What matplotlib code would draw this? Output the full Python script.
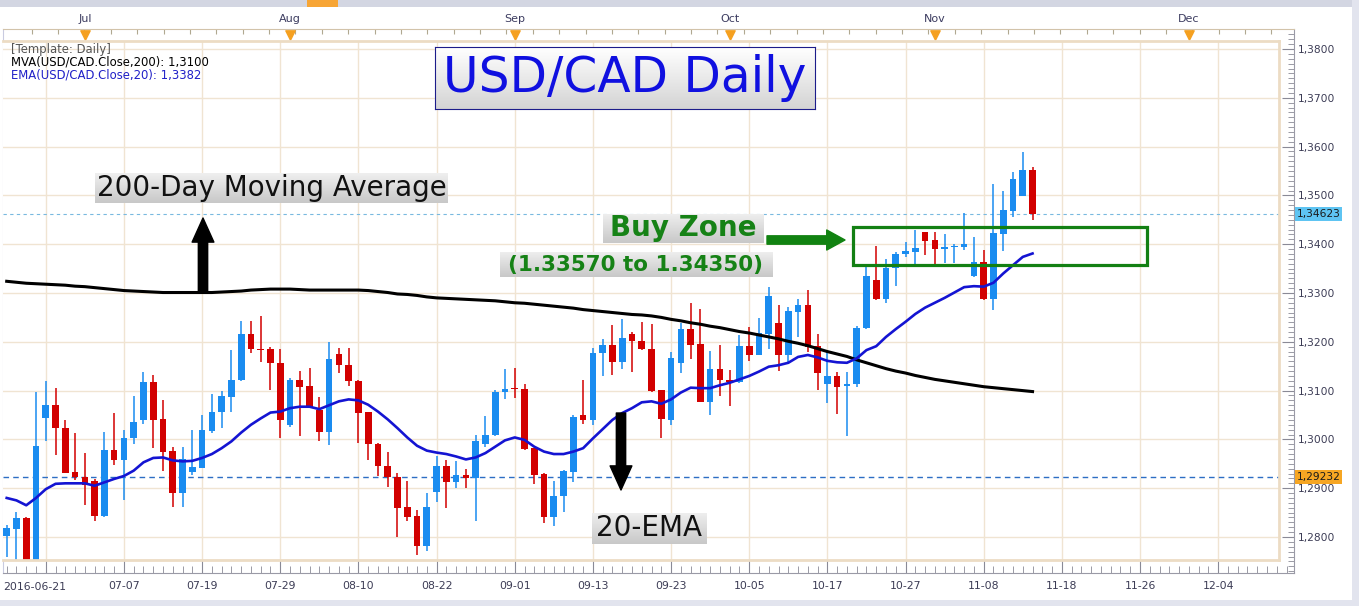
import numpy as np
import matplotlib
matplotlib.use('Agg')
from matplotlib import pyplot as plt
from matplotlib.patches import Rectangle
from matplotlib.colors import LinearSegmentedColormap
from matplotlib.ticker import FixedLocator, MultipleLocator, FuncFormatter

W, H = 1359, 606

# daily USD/CAD candles, 2016-06-21 .. 2016-11-15
opens = [1.2802, 1.2816, 1.2839, 1.2730, 1.3044, 1.3071, 1.3023, 1.2933, 1.2923, 1.2914,
         1.2844, 1.2979, 1.2958, 1.3003, 1.3040, 1.3117, 1.3041, 1.2977, 1.2890, 1.2934,
         1.2942, 1.3018, 1.3056, 1.3087, 1.3121, 1.3216, 1.3186, 1.3186, 1.3156, 1.3029,
         1.3121, 1.3110, 1.3061, 1.3016, 1.3175, 1.3153, 1.3120, 1.3056, 1.2991, 1.2946,
         1.2922, 1.2861, 1.2843, 1.2781, 1.2892, 1.2946, 1.2912, 1.2927, 1.2921, 1.2990,
         1.3009, 1.3097, 1.3105, 1.3104, 1.2983, 1.2929, 1.2842, 1.2883, 1.2934, 1.3050,
         1.3039, 1.3177, 1.3194, 1.3158, 1.3216, 1.3202, 1.3185, 1.3102, 1.3040, 1.3156,
         1.3226, 1.3196, 1.3077, 1.3144, 1.3122, 1.3118, 1.3191, 1.3173, 1.3216, 1.3238,
         1.3173, 1.3262, 1.3275, 1.3192, 1.3114, 1.3129, 1.3109, 1.3113, 1.3228, 1.3327,
         1.3287, 1.3351, 1.3379, 1.3385, 1.3424, 1.3408, 1.3390, 1.3394, 1.3395, 1.3335,
         1.3363, 1.3287, 1.3421, 1.3468, 1.3499, 1.3552]
highs = [1.2825, 1.2852, 1.2842, 1.3097, 1.3119, 1.3105, 1.3040, 1.3013, 1.2972, 1.2919,
         1.3015, 1.3054, 1.3020, 1.3089, 1.3138, 1.3131, 1.3081, 1.2985, 1.2985, 1.3020,
         1.3050, 1.3093, 1.3099, 1.3184, 1.3242, 1.3243, 1.3253, 1.3190, 1.3186, 1.3126,
         1.3141, 1.3146, 1.3087, 1.3199, 1.3187, 1.3187, 1.3122, 1.3057, 1.2992, 1.2974,
         1.2931, 1.2915, 1.2856, 1.2890, 1.2965, 1.2958, 1.2955, 1.2939, 1.3009, 1.3047,
         1.3102, 1.3145, 1.3146, 1.3113, 1.2983, 1.2932, 1.2914, 1.2938, 1.3050, 1.3122,
         1.3187, 1.3205, 1.3235, 1.3246, 1.3221, 1.3240, 1.3237, 1.3102, 1.3180, 1.3238,
         1.3279, 1.3267, 1.3181, 1.3193, 1.3142, 1.3214, 1.3231, 1.3248, 1.3312, 1.3275,
         1.3271, 1.3287, 1.3307, 1.3215, 1.3180, 1.3139, 1.3139, 1.3232, 1.3354, 1.3396,
         1.3370, 1.3385, 1.3405, 1.3430, 1.3426, 1.3424, 1.3420, 1.3400, 1.3463, 1.3415,
         1.3389, 1.3523, 1.3508, 1.3547, 1.3588, 1.3559]
lows = [1.2760, 1.2745, 1.2655, 1.2725, 1.2996, 1.2968, 1.2931, 1.2917, 1.2865, 1.2832,
        1.2840, 1.2948, 1.2876, 1.2990, 1.3031, 1.2982, 1.2936, 1.2862, 1.2862, 1.2927,
        1.2941, 1.3014, 1.3024, 1.3057, 1.3119, 1.3177, 1.3158, 1.3102, 1.3003, 1.3026,
        1.3006, 1.3064, 1.2996, 1.2989, 1.3137, 1.3110, 1.2992, 1.2958, 1.2924, 1.2902,
        1.2799, 1.2832, 1.2764, 1.2772, 1.2871, 1.2860, 1.2901, 1.2900, 1.2833, 1.2985,
        1.3007, 1.3083, 1.3085, 1.2979, 1.2908, 1.2828, 1.2823, 1.2852, 1.2912, 1.3031,
        1.3030, 1.3129, 1.3131, 1.3144, 1.3138, 1.3184, 1.3098, 1.3003, 1.3029, 1.3137,
        1.3164, 1.3077, 1.3050, 1.3088, 1.3069, 1.3116, 1.3161, 1.3173, 1.3185, 1.3141,
        1.3156, 1.3210, 1.3180, 1.3101, 1.3074, 1.3053, 1.3006, 1.3107, 1.3226, 1.3286,
        1.3279, 1.3315, 1.3374, 1.3354, 1.3378, 1.3355, 1.3362, 1.3362, 1.3388, 1.3333,
        1.3286, 1.3265, 1.3386, 1.3456, 1.3499, 1.3450]
closes = [1.2818, 1.2839, 1.2730, 1.2987, 1.3071, 1.3023, 1.2932, 1.2923, 1.2906, 1.2844,
          1.2979, 1.2958, 1.3003, 1.3035, 1.3117, 1.3040, 1.2975, 1.2890, 1.2960, 1.2943,
          1.3020, 1.3056, 1.3088, 1.3122, 1.3216, 1.3185, 1.3183, 1.3156, 1.3039, 1.3121,
          1.3108, 1.3067, 1.3016, 1.3165, 1.3152, 1.3119, 1.3055, 1.2990, 1.2946, 1.2922,
          1.2860, 1.2842, 1.2781, 1.2861, 1.2946, 1.2912, 1.2927, 1.2921, 1.2997, 1.3009,
          1.3098, 1.3104, 1.3103, 1.2980, 1.2927, 1.2842, 1.2884, 1.2936, 1.3045, 1.3039,
          1.3177, 1.3194, 1.3158, 1.3208, 1.3201, 1.3185, 1.3100, 1.3042, 1.3166, 1.3226,
          1.3193, 1.3077, 1.3144, 1.3122, 1.3118, 1.3191, 1.3173, 1.3219, 1.3294, 1.3173,
          1.3263, 1.3275, 1.3189, 1.3137, 1.3129, 1.3108, 1.3114, 1.3229, 1.3335, 1.3287,
          1.3351, 1.3379, 1.3386, 1.3392, 1.3407, 1.3390, 1.3394, 1.3396, 1.3400, 1.3364,
          1.3287, 1.3422, 1.3470, 1.3534, 1.3552, 1.3461]

# indicator values per candle
ema20 = [1.2880, 1.2875, 1.2865, 1.2880, 1.2898, 1.2909, 1.2910, 1.2910, 1.2910, 1.2905,
         1.2912, 1.2919, 1.2925, 1.2936, 1.2953, 1.2962, 1.2963, 1.2957, 1.2955, 1.2956,
         1.2962, 1.2970, 1.2982, 1.2996, 1.3014, 1.3030, 1.3043, 1.3055, 1.3057, 1.3064,
         1.3067, 1.3067, 1.3062, 1.3070, 1.3078, 1.3082, 1.3080, 1.3071, 1.3057, 1.3041,
         1.3023, 1.3004, 1.2987, 1.2977, 1.2973, 1.2970, 1.2965, 1.2959, 1.2963, 1.2972,
         1.2985, 1.2998, 1.3004, 1.2999, 1.2985, 1.2975, 1.2970, 1.2970, 1.2975, 1.2982,
         1.3002, 1.3021, 1.3040, 1.3054, 1.3064, 1.3076, 1.3078, 1.3073, 1.3082, 1.3096,
         1.3106, 1.3105, 1.3105, 1.3111, 1.3116, 1.3123, 1.3130, 1.3139, 1.3149, 1.3152,
         1.3157, 1.3169, 1.3173, 1.3168, 1.3161, 1.3158, 1.3157, 1.3166, 1.3183, 1.3191,
         1.3210, 1.3226, 1.3241, 1.3257, 1.3270, 1.3280, 1.3290, 1.3301, 1.3312, 1.3314,
         1.3313, 1.3321, 1.3340, 1.3357, 1.3374, 1.3381]
mva200 = [1.3324, 1.3322, 1.3320, 1.3319, 1.3318, 1.3317, 1.3316, 1.3314, 1.3313, 1.3311,
          1.3309, 1.3307, 1.3305, 1.3304, 1.3303, 1.3302, 1.3301, 1.3301, 1.3301, 1.3301,
          1.3301, 1.3301, 1.3302, 1.3303, 1.3304, 1.3306, 1.3307, 1.3308, 1.3308, 1.3308,
          1.3307, 1.3306, 1.3306, 1.3306, 1.3306, 1.3306, 1.3306, 1.3305, 1.3303, 1.3301,
          1.3298, 1.3297, 1.3295, 1.3292, 1.3290, 1.3289, 1.3288, 1.3287, 1.3286, 1.3285,
          1.3284, 1.3282, 1.3280, 1.3279, 1.3277, 1.3275, 1.3273, 1.3271, 1.3269, 1.3266,
          1.3264, 1.3262, 1.3260, 1.3258, 1.3256, 1.3255, 1.3253, 1.3250, 1.3246, 1.3243,
          1.3239, 1.3236, 1.3232, 1.3229, 1.3225, 1.3221, 1.3218, 1.3214, 1.3210, 1.3206,
          1.3201, 1.3197, 1.3192, 1.3186, 1.3180, 1.3175, 1.3170, 1.3163, 1.3157, 1.3151,
          1.3145, 1.3140, 1.3136, 1.3131, 1.3127, 1.3123, 1.3120, 1.3117, 1.3114, 1.3111,
          1.3108, 1.3106, 1.3104, 1.3102, 1.3100, 1.3098]

date_ticks = [4, 12, 20, 28, 36, 44, 52, 60, 68, 76, 84, 92, 100, 108, 116, 124]
date_labels = ['', '07-07', '07-19', '07-29', '08-10', '08-22', '09-01', '09-13',
               '09-23', '10-05', '10-17', '10-27', '11-08', '11-18', '11-26', '12-04']
first_date = '2016-06-21'
months = ['Jul', 'Aug', 'Sep', 'Oct', 'Nov', 'Dec']
month_pos = [8, 29, 52, 74, 95, 121]
price_ticks = [1.28, 1.29, 1.30, 1.31, 1.32, 1.33, 1.34, 1.35, 1.36, 1.37, 1.38]

last_price = 1.34623
mark_price = 1.29232
zone_low, zone_high = 1.33570, 1.34350

BLUE = '#1a8cf0'
RED = '#d20000'

# pixel <-> data helpers (for placing axes and annotations)
X0, DX = 6.7, 9.77
PY0, PPU = 49, 4880


def px2x(px):
    return (px - X0) / DX


def py2p(py):
    return 1.38 - (py - PY0) / PPU


def fx(px):
    return px / W


def fy(py):
    return 1 - py / H


fig = plt.figure(figsize=(W / 100, H / 100), dpi=100, facecolor='white')

# outer frame with the scales
ax0 = fig.add_axes([fx(3), fy(573), fx(1294) - fx(3), fy(29) - fy(573)], zorder=0)
ax0.spines['left'].set_color('#c9cbe0')
ax0.spines['right'].set_color('#9a9aa6')
ax0.spines['bottom'].set_color('#9a9aa6')
ax0.spines['top'].set_color('#d2c3aa')
ax0.yaxis.tick_right()
ax0.yaxis.set_major_locator(FixedLocator(price_ticks))
ax0.yaxis.set_minor_locator(MultipleLocator(0.001))
ax0.yaxis.set_major_formatter(FuncFormatter(lambda v, _: f'{v:.4f}'.replace('.', ',')))
ax0.xaxis.set_major_locator(FixedLocator(date_ticks))
ax0.xaxis.set_minor_locator(MultipleLocator(1))
ax0.set_xticklabels(date_labels)
ax0.set_xlim(px2x(3), px2x(1294))
ax0.set_ylim(py2p(573), py2p(29))
ax0.tick_params(axis='y', which='major', direction='in', length=9, color='#8a8a96',
                labelsize=7.7, labelcolor='#3c3c55', pad=3)
ax0.tick_params(axis='y', which='minor', direction='in', length=4, color='#8a8a96')
ax0.tick_params(axis='x', which='major', direction='in', length=11, color='#8a8a96',
                labelsize=7.8, labelcolor='#3c3c55', pad=6)
ax0.tick_params(axis='x', which='minor', direction='in', length=5, color='#8a8a96')
tr = ax0.get_xaxis_transform()
ax0.vlines(np.arange(2.55, 131.5, 2.7), 1 - 5 / 544, 1, transform=tr, color='#b0a890', lw=0.8)
for m, p in zip(months, month_pos):
    ax0.text(p, (573 - 19) / 544, m, transform=tr, ha='center', va='center',
             fontsize=8, color='#3c3c60')
ax0.scatter(month_pos, [(573 - 35) / 544] * len(month_pos), transform=tr, marker='v',
            s=45, color='#f5a020', clip_on=False, zorder=5)
fig.text(fx(3), fy(587), first_date, ha='left', va='center', fontsize=7.8, color='#3c3c55')

# inner price area
ax = fig.add_axes([fx(3), fy(560), fx(1279) - fx(3), fy(41) - fy(560)], zorder=1)
ax.set_xticks(date_ticks)
ax.set_yticks(price_ticks)
ax.set_xlim(px2x(3), px2x(1279))
ax.set_ylim(py2p(560), py2p(41))
ax.grid(True, color='#f0e4d2', lw=1)
ax.set_axisbelow(True)
ax.tick_params(length=0, labelbottom=False, labelleft=False)
for s in ['top', 'right', 'bottom']:
    ax.spines[s].set_color('#ecdcc4')
    ax.spines[s].set_linewidth(2)
ax.spines['left'].set_visible(False)

o = np.array(opens)
c = np.array(closes)
idx = np.arange(len(o))
cols = np.where(c >= o, BLUE, RED)
ax.vlines(idx, lows, highs, colors=cols, lw=1.1, zorder=2)
ax.bar(idx, np.maximum(np.abs(c - o), 0.00025), bottom=np.minimum(o, c), width=0.68,
       color=cols, lw=0, zorder=2)

ax.plot(idx, mva200, color='black', lw=2.2, zorder=3)
ax.plot(idx, ema20, color='#1414d2', lw=1.9, zorder=3)

ax.axhline(last_price, color='#79b9df', lw=0.8, ls=(0, (3, 3)), zorder=1)
ax.axhline(mark_price, color='#2d6ec4', lw=1, ls=(0, (4, 3)), zorder=1)

ax.add_patch(Rectangle((px2x(853), zone_low), px2x(1147) - px2x(853), zone_high - zone_low,
                       fill=False, ec='#138013', lw=2.3, zorder=5))

ax.annotate('', xy=(px2x(203), py2p(218)), xytext=(px2x(203), py2p(292)),
            arrowprops=dict(arrowstyle='simple,head_length=1.24,head_width=1.12,tail_width=0.48',
                            color='black', mutation_scale=14, shrinkA=0, shrinkB=0), zorder=6)
ax.annotate('', xy=(px2x(621), py2p(490)), xytext=(px2x(621), py2p(413)),
            arrowprops=dict(arrowstyle='simple,head_length=1.24,head_width=1.12,tail_width=0.48',
                            color='black', mutation_scale=14, shrinkA=0, shrinkB=0), zorder=6)
ax.annotate('', xy=(px2x(845), py2p(240)), xytext=(px2x(767), py2p(240)),
            arrowprops=dict(arrowstyle='simple,head_length=0.94,head_width=1.03,tail_width=0.43',
                            color='#118211', mutation_scale=14, shrinkA=0, shrinkB=0), zorder=6)


def grad_box(x0, y0, x1, y1, top, bottom, edge=None):
    a = fig.add_axes([fx(x0), fy(y1), fx(x1) - fx(x0), fy(y0) - fy(y1)], zorder=3)
    cmap = LinearSegmentedColormap.from_list('g', [top, bottom])
    a.imshow(np.linspace(0, 1, 64)[:, None], cmap=cmap, aspect='auto', extent=(0, 1, 0, 1))
    a.set_xticks([])
    a.set_yticks([])
    for s in a.spines.values():
        if edge is None:
            s.set_visible(False)
        else:
            s.set_color(edge)
    return a


b = grad_box(435, 47, 815, 109, '#ffffff', '#d4d4d4', edge='#1c1c8a')
b.text(0.5, 0.5, 'USD/CAD Daily', transform=b.transAxes, ha='center', va='center',
       fontsize=35, color='#1010e0')

b = grad_box(95, 173, 448, 203, '#efefef', '#c8c8c8')
b.text(0.5, 0.5, '200-Day Moving Average', transform=b.transAxes, ha='center', va='center',
       fontsize=20, color='#111111')

b = grad_box(603, 214, 764, 243, '#efefef', '#c8c8c8')
b.text(0.5, 0.5, 'Buy Zone', transform=b.transAxes, ha='center', va='center',
       fontsize=20, fontweight='bold', color='#168216')

b = grad_box(500, 252, 772, 277, '#efefef', '#c8c8c8')
b.text(0.5, 0.5, '(1.33570 to 1.34350)', transform=b.transAxes, ha='center', va='center',
       fontsize=15.5, fontweight='bold', color='#168216')

b = grad_box(592, 513, 707, 544, '#efefef', '#c8c8c8')
b.text(0.5, 0.5, '20-EMA', transform=b.transAxes, ha='center', va='center',
       fontsize=20, color='#111111')

# indicator legend
fig.text(fx(11), fy(49), '[Template: Daily]', fontsize=8.4, color='#555555', va='center', zorder=10)
fig.text(fx(11), fy(62), 'MVA(USD/CAD.Close,200): 1,3100', fontsize=8.4, color='black',
         va='center', zorder=10)
fig.text(fx(11), fy(75), 'EMA(USD/CAD.Close,20): 1,3382', fontsize=8.4, color='#2020c8',
         va='center', zorder=10)

# price tags on the right scale
fig.text(fx(1297), fy(214), f'{last_price:.5f}'.replace('.', ','), fontsize=7.7, va='center',
         ha='left', color='#1a1a1a', zorder=10,
         bbox=dict(boxstyle='square,pad=0.15', fc='#5ec4f2', ec='none'))
fig.text(fx(1297), fy(477), f'{mark_price:.5f}'.replace('.', ','), fontsize=7.7, va='center',
         ha='left', color='#1a1a1a', zorder=10,
         bbox=dict(boxstyle='square,pad=0.15', fc='#f6a623', ec='none'))

# window chrome: scroll strip on top, grey bands at the edges
fig.patches.append(Rectangle((0, fy(7)), 1, 7 / H, transform=fig.transFigure,
                             fc='#d3d6e2', ec='none', zorder=0))
fig.patches.append(Rectangle((fx(307), fy(7)), fx(338) - fx(307), 7 / H,
                             transform=fig.transFigure, fc='#f7a535', ec='none', zorder=0))
fig.patches.append(Rectangle((0, 0), 1, 6 / H, transform=fig.transFigure,
                             fc='#e2e4ee', ec='none', zorder=0))
fig.patches.append(Rectangle((fx(1352), 0), fx(7), 1, transform=fig.transFigure,
                             fc='#e2e4ee', ec='none', zorder=0))

fig.savefig('out.png', dpi=100, facecolor='white')
